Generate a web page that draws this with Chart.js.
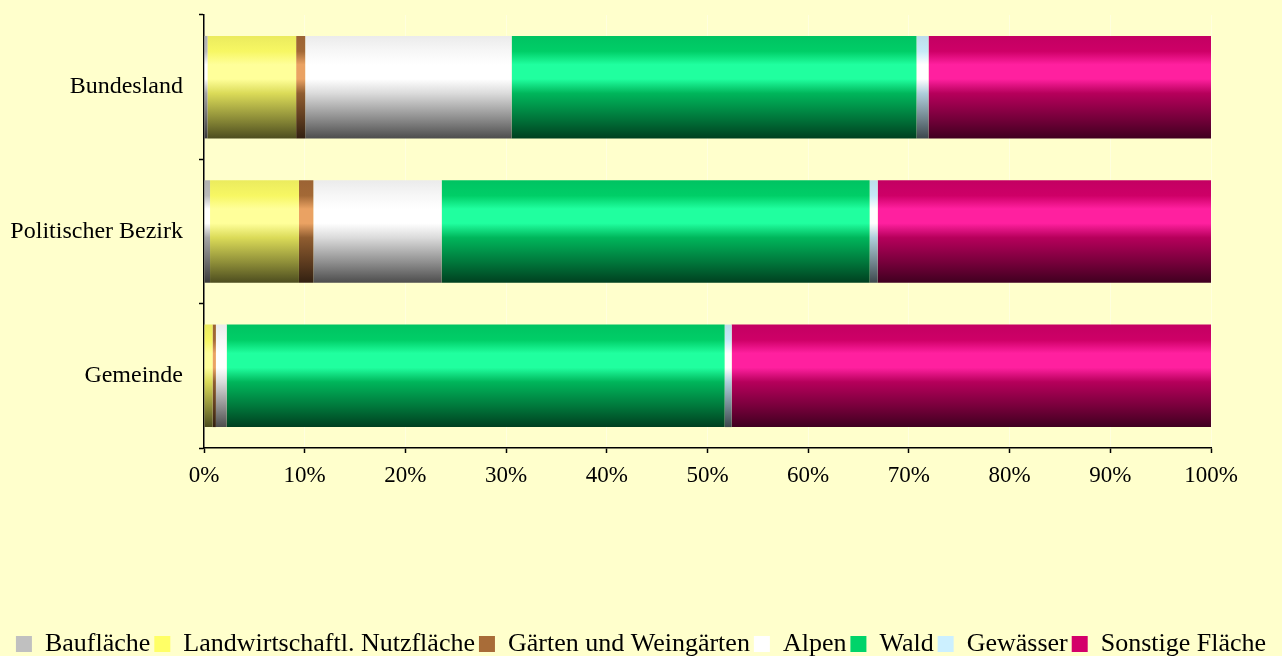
<!DOCTYPE html>
<html>
<head>
<meta charset="utf-8">
<script src="https://cdn.jsdelivr.net/npm/chart.js@4.4.1/dist/chart.umd.min.js"></script>
<style>
  html, body { margin: 0; padding: 0; background: #FFFFCC; }
  #wrap { width: 1282px; height: 656px; position: relative; }
</style>
</head>
<body>
<div id="wrap"><canvas id="c" width="1282" height="656"></canvas></div>
<script>
// ---- data ----
const categories = ["Bundesland", "Politischer Bezirk", "Gemeinde"];
const seriesNames = ["Baufläche", "Landwirtschaftl. Nutzfläche", "Gärten und Weingärten", "Alpen", "Wald", "Gewässer", "Sonstige Fläche"];
const bauflaeche   = [0.35, 0.6, 0.05];
const landwirtsch  = [8.8, 8.83, 0.8];
const gaerten      = [0.9, 1.43, 0.33];
const alpen        = [20.5, 12.74, 1.07];
const wald         = [40.2, 42.5, 49.45];
const gewaesser    = [1.2, 0.8, 0.7];
const sonstige     = [28.05, 33.1, 47.6];
const xTickLabels  = ["0%", "10%", "20%", "30%", "40%", "50%", "60%", "70%", "80%", "90%", "100%"];

// ---- styles ----
const seriesColors = ["#C0C0C0", "#FFFF66", "#A86C38", "#FFFFFF", "#00D46A", "#CCF0FF", "#D4006A"];

function hexToRgb(h) {
  const n = parseInt(h.slice(1), 16);
  return [(n >> 16) & 255, (n >> 8) & 255, n & 255];
}
function dark(rgb, f) {
  return `rgb(${Math.round(rgb[0] * f)},${Math.round(rgb[1] * f)},${Math.round(rgb[2] * f)})`;
}
function bright(rgb) {
  const c = v => Math.min(255, Math.round(v * 1.2 + 32));
  return `rgb(${c(rgb[0])},${c(rgb[1])},${c(rgb[2])})`;
}
function barGradient(color) {
  return function (ctx) {
    const chart = ctx.chart;
    const yScale = chart.scales && chart.scales.y;
    if (!yScale || ctx.dataIndex === undefined || !chart.chartArea) return color;
    const center = yScale.getPixelForValue(ctx.dataIndex);
    const cat = (yScale.bottom - yScale.top) / categories.length;
    const h = cat * 0.71;
    const top = center - h / 2, bot = center + h / 2;
    const g = chart.ctx.createLinearGradient(0, top, 0, bot);
    const rgb = hexToRgb(color);
    g.addColorStop(0.0, dark(rgb, 0.92));
    g.addColorStop(0.15, dark(rgb, 0.97));
    g.addColorStop(0.28, bright(rgb));
    g.addColorStop(0.42, bright(rgb));
    g.addColorStop(0.56, dark(rgb, 0.86));
    g.addColorStop(0.8, dark(rgb, 0.56));
    g.addColorStop(1.0, dark(rgb, 0.3));
    return g;
  };
}

const seriesValues = [bauflaeche, landwirtsch, gaerten, alpen, wald, gewaesser, sonstige];
const datasets = seriesValues.map((vals, i) => ({
  label: seriesNames[i],
  data: vals,
  backgroundColor: barGradient(seriesColors[i]),
  borderWidth: 0,
  categoryPercentage: 1.0,
  barPercentage: 0.71,
  legendColor: seriesColors[i]
}));

const serif = "'Liberation Serif', 'Times New Roman', serif";

new Chart(document.getElementById('c'), {
  type: 'bar',
  data: { labels: categories, datasets },
  options: {
    indexAxis: 'y',
    responsive: false,
    animation: false,
    devicePixelRatio: 1,
    layout: { padding: { left: 0, right: 0, top: 15, bottom: -11 } },
    plugins: {
      tooltip: { enabled: false },
      legend: {
        position: 'bottom',
        labels: {
          font: { family: serif, size: 26 },
          color: '#000',
          boxWidth: 16,
          boxHeight: 16,
          padding: 4,
          generateLabels(chart) {
            return chart.data.datasets.map((ds, i) => ({
              text: ds.label,
              fillStyle: ds.legendColor,
              strokeStyle: ds.legendColor,
              lineWidth: 0,
              hidden: false,
              datasetIndex: i
            }));
          }
        }
      }
    },
    scales: {
      x: {
        stacked: true,
        min: 0, max: 100,
        ticks: {
          stepSize: 10,
          color: '#000',
          font: { family: serif, size: 23 },
          padding: 9,
          callback: (v, i) => xTickLabels[i]
        },
        grid: {
          drawOnChartArea: true,
          color: 'rgba(255,255,255,0.35)',
          tickColor: '#000',
          tickLength: 5,
          tickWidth: 1.5
        },
        border: { color: '#000', width: 1.5 },
        afterFit(scale) { scale.height = 179; scale.paddingRight = 71; scale.paddingLeft = 0; }
      },
      y: {
        stacked: true,
        ticks: {
          color: '#000',
          font: { family: serif, size: 24 },
          padding: 16
        },
        grid: {
          offset: true,
          drawOnChartArea: false,
          tickColor: '#000',
          tickLength: 5,
          tickWidth: 1.5
        },
        border: { color: '#000', width: 1.5 },
        afterFit(scale) { scale.width = 204; scale.paddingTop = 0; scale.paddingBottom = 0; }
      }
    }
  }
});
</script>
</body>
</html>
